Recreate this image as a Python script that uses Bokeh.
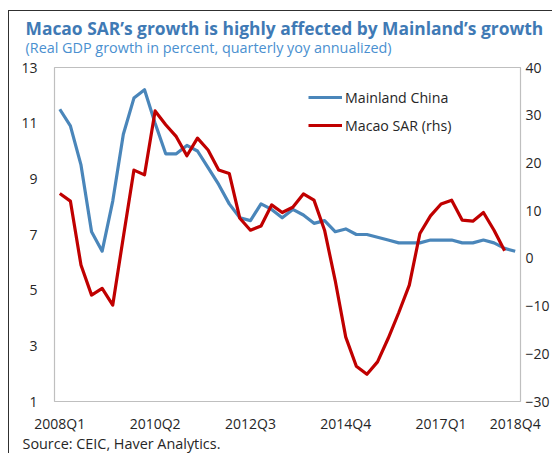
from bokeh.plotting import figure
from bokeh.models import (Range1d, LinearAxis, Legend, LegendItem, FixedTicker, Title,
                          InlineStyleSheet)
from bokeh.embed import file_html
from bokeh.resources import INLINE

quarters = ["2008Q1", "2008Q2", "2008Q3", "2008Q4", "2009Q1", "2009Q2", "2009Q3", "2009Q4",
            "2010Q1", "2010Q2", "2010Q3", "2010Q4", "2011Q1", "2011Q2", "2011Q3", "2011Q4",
            "2012Q1", "2012Q2", "2012Q3", "2012Q4", "2013Q1", "2013Q2", "2013Q3", "2013Q4",
            "2014Q1", "2014Q2", "2014Q3", "2014Q4", "2015Q1", "2015Q2", "2015Q3", "2015Q4",
            "2016Q1", "2016Q2", "2016Q3", "2016Q4", "2017Q1", "2017Q2", "2017Q3", "2017Q4",
            "2018Q1", "2018Q2", "2018Q3", "2018Q4"]

china = [11.5, 10.9, 9.5, 7.1, 6.4, 8.2, 10.6, 11.9, 12.2, 11.0, 9.9, 9.9,
         10.2, 10.0, 9.4, 8.8, 8.1, 7.6, 7.5, 8.1, 7.9, 7.6, 7.9, 7.7,
         7.4, 7.5, 7.1, 7.2, 7.0, 7.0, 6.9, 6.8, 6.7, 6.7, 6.7, 6.8,
         6.8, 6.8, 6.7, 6.7, 6.8, 6.7, 6.5, 6.4]

macao = [13.6, 12.0, -1.4, -7.7, -6.3, -9.8, 4.5, 18.5, 17.5, 30.9, 28.0, 25.5,
         21.5, 25.2, 22.7, 18.5, 17.8, 8.4, 5.9, 6.8, 11.2, 9.6, 10.7, 13.5,
         12.2, 5.9, -4.6, -16.5, -22.6, -24.3, -21.7, -16.8, -11.4, -5.6, 5.2, 8.9,
         11.4, 12.2, 8.0, 7.8, 9.6, 5.9, 1.6]

tick_labels = ["2008Q1", "2010Q2", "2012Q3", "2014Q4", "2017Q1", "2018Q4"]
left_ticks = [1, 3, 5, 7, 9, 11, 13]
right_ticks = [-30, -20, -10, 0, 10, 20, 30, 40]

FONT = "Open Sans"
BLUE = "#4A86BA"
RED = "#C00000"
TXT = "#262626"

x = list(range(len(quarters)))
tick_pos = [quarters.index(t) for t in tick_labels]

box_css = InlineStyleSheet(css="""
:host::after {
  content: "";
  position: absolute;
  left: 8px; top: 10px; right: 0; bottom: 0;
  border-left: 1px solid #303030;
  border-top: 1px solid #303030;
  pointer-events: none;
}
""")

p = figure(width=552, height=453, output_backend="svg", toolbar_location=None,
           x_range=Range1d(-0.5, len(quarters) - 0.5),
           y_range=Range1d(min(left_ticks), max(left_ticks)),
           min_border_left=54, min_border_right=26, min_border_top=67, min_border_bottom=52)
p.stylesheets = [box_css]
p.extra_y_ranges = {"rhs": Range1d(min(right_ticks), max(right_ticks))}

p.grid.visible = False
p.outline_line_color = "#BFBFBF"
p.outline_line_width = 1.2
p.background_fill_color = "white"
p.border_fill_color = "white"

def style_axis(ax, standoff):
    ax.axis_line_color = None
    ax.major_tick_line_color = None
    ax.minor_tick_line_color = None
    ax.major_tick_out = 0
    ax.major_tick_in = 0
    ax.axis_label_standoff = 0
    ax.major_label_standoff = standoff
    ax.major_label_text_font = FONT
    ax.major_label_text_font_size = "14px"
    ax.major_label_text_color = TXT

xa = p.xaxis[0]
xa.ticker = FixedTicker(ticks=tick_pos)
xa.major_label_overrides = {i: quarters[i] for i in tick_pos}
style_axis(xa, 12)

ya = p.yaxis[0]
ya.ticker = FixedTicker(ticks=left_ticks)
style_axis(ya, 17)

ra = LinearAxis(y_range_name="rhs", ticker=FixedTicker(ticks=right_ticks))
style_axis(ra, 5)
p.add_layout(ra, "right")

r1 = p.line(x, china, line_color=BLUE, line_width=3.2, line_join="round")
r2 = p.line(x[:len(macao)], macao, y_range_name="rhs", line_color=RED, line_width=3.2,
            line_join="round")

legend = Legend(items=[LegendItem(label="Mainland China", renderers=[r1]),
                       LegendItem(label="Macao SAR (rhs)", renderers=[r2])],
                location=(254, 266), padding=0, spacing=8, glyph_width=34, glyph_height=20,
                label_standoff=3, border_line_color=None, background_fill_alpha=0,
                label_text_font=FONT, label_text_font_size="14.2px", label_text_color=TXT)
p.add_layout(legend)

p.title.visible = False
p.add_layout(Title(text="(Real GDP growth in percent, quarterly yoy annualized)",
                   align="left", offset=-29, standoff=22,
                   text_font=FONT, text_font_size="14.4px", text_font_style="normal",
                   text_color="#4A90D0"), "above")
p.add_layout(Title(text="Macao SAR\u2019s growth is highly affected by Mainland\u2019s growth",
                   align="left", offset=-29, standoff=-31,
                   text_font=FONT, text_font_size="17.4px", text_font_style="bold",
                   text_color="#3F7AB5"), "above")
p.add_layout(Title(text="Source: CEIC, Haver Analytics.",
                   align="left", offset=-32, standoff=-7,
                   text_font=FONT, text_font_size="14.4px", text_font_style="normal",
                   text_color=TXT), "below")

open("out.html", "w").write(file_html(p, INLINE))
